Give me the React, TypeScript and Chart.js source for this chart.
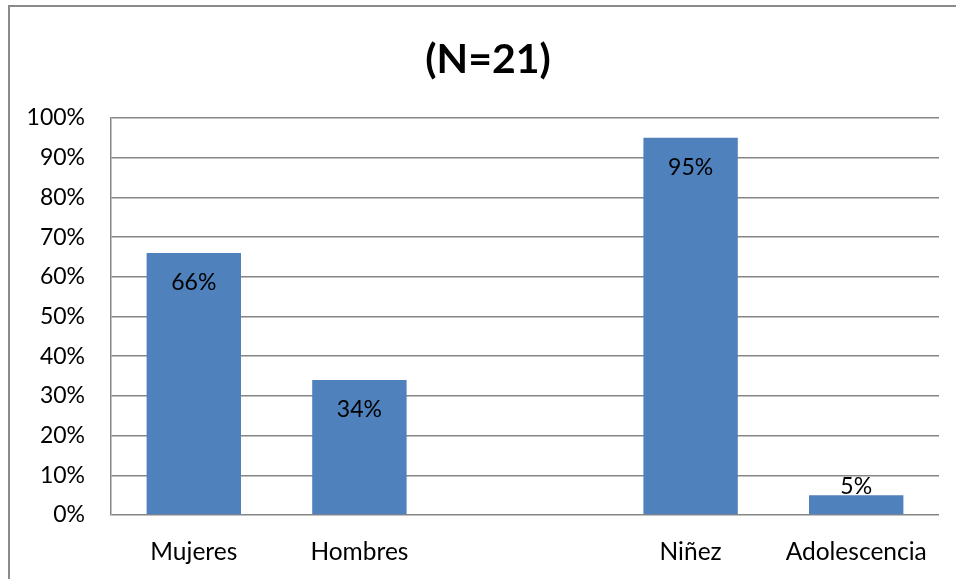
import React, { useEffect, useRef } from "react";
import { Chart, registerables } from "chart.js";

Chart.register(...registerables);

const categories = ["Mujeres", "Hombres", "", "Niñez", "Adolescencia"];
const percentages: (number | null)[] = [66, 34, null, 95, 5];
const titleText = "(N=21)";

const FONT = "Lato, 'Open Sans', 'DejaVu Sans', sans-serif";
const GRID = "#868686";
const BAR = "#4F81BD";

const framePlugin = {
  id: "frame",
  beforeDraw(chart: any) {
    const { ctx } = chart;
    ctx.save();
    ctx.strokeStyle = "#8a8a8a";
    ctx.lineWidth = 2;
    ctx.beginPath();
    ctx.moveTo(9, 600);
    ctx.lineTo(9, 6);
    ctx.lineTo(970, 6);
    ctx.stroke();
    ctx.restore();
  },
};

const titlePlugin = {
  id: "bigTitle",
  afterDraw(chart: any) {
    const { ctx } = chart;
    ctx.save();
    ctx.font = `bold 41px ${FONT}`;
    ctx.fillStyle = "#000";
    ctx.textAlign = "center";
    ctx.textBaseline = "middle";
    ctx.fillText(titleText, 488, 60);
    ctx.restore();
  },
};

const valueLabels = {
  id: "valueLabels",
  afterDatasetsDraw(chart: any) {
    const { ctx } = chart;
    const meta = chart.getDatasetMeta(0);
    ctx.save();
    ctx.font = `23px ${FONT}`;
    ctx.fillStyle = "#000";
    ctx.textAlign = "center";
    ctx.textBaseline = "middle";
    meta.data.forEach((bar: any, i: number) => {
      const v = percentages[i];
      if (v == null) return;
      const h = bar.base - bar.y;
      const cy = h > 45 ? bar.y + 30 : bar.y - 9;
      ctx.fillText(`${v}%`, bar.x, cy);
    });
    ctx.restore();
  },
};

export default function App() {
  const ref = useRef<HTMLCanvasElement>(null);

  useEffect(() => {
    if (!ref.current) return;
    const chart = new Chart(ref.current, {
      type: "bar",
      data: {
        labels: categories,
        datasets: [
          {
            data: percentages,
            backgroundColor: BAR,
            categoryPercentage: 1,
            barPercentage: 0.57,
          },
        ],
      },
      options: {
        responsive: false,
        animation: false,
        layout: { padding: { left: 0, right: 17, top: 118, bottom: 0 } },
        plugins: {
          legend: { display: false },
          tooltip: { enabled: false },
          title: { display: false },
        },
        scales: {
          x: {
            grid: { display: false },
            border: { display: false },
            ticks: {
              color: "#000",
              font: { family: FONT, size: 24.5 },
              padding: 14,
              maxRotation: 0,
              autoSkip: false,
            },
            afterFit: (s: any) => {
              s.height = 64;
            },
          },
          y: {
            min: 0,
            max: 100,
            grid: { color: GRID, lineWidth: 1.5, drawTicks: false },
            border: { color: GRID, width: 1.5 },
            ticks: {
              stepSize: 10,
              color: "#000",
              font: { family: FONT, size: 23 },
              padding: 26,
              callback: (v: any) => `${v}%`,
            },
            afterFit: (s: any) => {
              s.width = 111;
            },
          },
        },
      },
      plugins: [framePlugin, titlePlugin, valueLabels],
    });
    return () => chart.destroy();
  }, []);

  return (
    <div style={{ position: "fixed", left: 0, top: 0, width: 956, height: 579, background: "#fff" }}>
      <canvas ref={ref} width={956} height={579} style={{ display: "block" }} />
    </div>
  );
}
